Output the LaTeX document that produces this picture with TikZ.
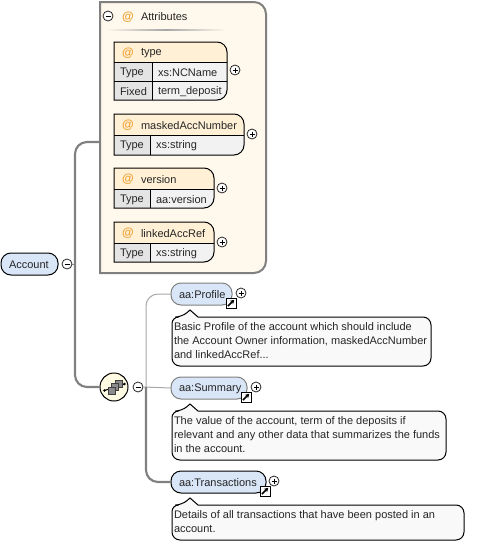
\documentclass[tikz,border=0pt]{standalone}
\usepackage{fontspec}
\setmainfont{Liberation Sans}
\usetikzlibrary{fit,arrows.meta,calc}
\definecolor{attrbg}{HTML}{FFF8EC}
\definecolor{hdr}{HTML}{FFF0D6}
\definecolor{lab}{HTML}{E4E4E4}
\definecolor{val}{HTML}{F2F2F2}
\definecolor{elem}{HTML}{D9E6F8}
\definecolor{docbg}{HTML}{F9F9F9}
\definecolor{conn}{HTML}{808080}
\definecolor{thinc}{HTML}{A8A8A8}
\definecolor{choicebg}{HTML}{FFFBE2}
\definecolor{atc}{HTML}{F0A030}
\tikzset{
  x=0.75pt,y=-0.75pt,
  every node/.style={font=\fontsize{8.25}{10.5}\selectfont,text=black!85},
  region/.style={inner sep=0pt,outer sep=0pt,line width=0pt},
  txt/.style={anchor=west,inner sep=0pt,outer sep=0pt,yshift=-0.6pt},
  atsign/.style={txt,text=atc,font=\fontsize{9}{10.5}\selectfont\bfseries},
  outl/.style={draw=black,line width=0.75pt},
  pm/.style={circle,draw=black!85,fill=white,line width=0.6pt,minimum size=7.5pt,inner sep=0pt},
  trunk/.style={draw=conn,line width=1.6pt,rounded corners=9pt},
  thinl/.style={draw=thinc,line width=0.75pt,rounded corners=9pt},
  shortl/.style={draw=conn,line width=0.75pt},
  doc/.style={anchor=north west,inner sep=0pt,outer sep=0pt,align=left}
}
% plus / minus
\newcommand{\minusn}[3]{\node[pm] (#1) at (#2,#3) {};
  \draw[line width=0.6pt,black] ($(#1)+(-2.5,0)$) -- ($(#1)+(2.5,0)$);}
\newcommand{\plusn}[3]{\node[pm] (#1) at (#2,#3) {};
  \draw[line width=0.6pt,black] ($(#1)+(-2.5,0)$) -- ($(#1)+(2.5,0)$) ($(#1)+(0,-2.5)$) -- ($(#1)+(0,2.5)$);}
% attribute box: name x1 y1 x2 y2 yhead xdiv title
\newcommand{\attrb}[8]{%
  \node[region,fit={(#2,#3)(#4,#5)}] (#1) {};
  \fill[hdr] (#2,#6) -- (#2,#3) [rounded corners=7.5pt] -- (#4,#3) [sharp corners] -- (#4,#6) -- cycle;
  \fill[val] (#7,#6) -- (#4,#6) [rounded corners=7.5pt] -- (#4,#5) [sharp corners] -- (#7,#5) -- cycle;
  \fill[lab] (#2,#6) rectangle (#7,#5);
  \draw[outl] (#2,#3) [rounded corners=7.5pt] -- (#4,#3) -- (#4,#5) [sharp corners] -- (#2,#5) -- cycle;
  \draw[outl] (#2,#6) -- (#4,#6) (#7,#6) -- (#7,#5);
  \node[atsign] (#1at) at (#2+8,{(#3+#6)/2}) {@};
  \node[txt] (#1title) at (#2+27,{(#3+#6)/2}) {#8};
}
% element: name x1 y1 x2 y2 text, border
\newcommand{\elemb}[7]{%
  \node[region,fit={(#2,#3)(#4,#5)}] (#1) {};
  \draw[draw=#7,line width=0.75pt,fill=elem,rounded corners=7.5pt] (#2,#3) rectangle (#4,#5);
  \node[txt] (#1t) at (#2+8,{(#3+#5)/2}) {#6};
}
\newcommand{\linkic}[3]{%
  \node[draw=black,fill=white,line width=0.75pt,minimum size=7.5pt,inner sep=0pt] (#1) at (#2,#3) {};
  \draw[black,line width=1.1pt,-{Stealth[length=3pt,width=3.5pt]}] ($(#1)+(-3,3)$) -- ($(#1)+(3.2,-3.2)$);
}
% doc: name x1 y1 x2 y2 text
\newcommand{\docb}[6]{%
  \node[region,fit={(#2,#3)(#4,#5)}] (#1) {};
  \draw[outl,fill=docbg,rounded corners=5pt] (#2,#3+15) -- (#2,#3) [rounded corners=5pt] -- (#2+10,#3) [sharp corners] -- (#2+18,#3-7) -- (#2+26,#3) [rounded corners=6pt] -- (#4,#3) -- (#4,#5) -- (#2,#5) -- cycle;
  \node[doc] (#1t) at (#2+2,#3+6) {#6};
}
\begin{document}
\begin{tikzpicture}
\useasboundingbox (0,0) rectangle (487,543);
\fill[white] (0,0) rectangle (487,543);

% named connector joints
\coordinate (jA) at (75,264);
\coordinate (jB) at (146,387);
\coordinate (attrport) at (100,142);

% Attributes container
\node[region,fit={(100,2)(266,273)}] (attr) {};
\draw[draw=conn,line width=1.5pt,fill=attrbg] (100,2) [rounded corners=9pt] -- (266,2) -- (266,273) [sharp corners] -- (100,273) -- cycle;
\node[atsign] (attrat) at (122,16) {@};
\node[txt] (attrtitle) at (141,16) {Attributes};
\shade[left color=attrbg,right color=attrbg,middle color=black!35] (105,29.5) rectangle (226,30.7);
\minusn{attrminus}{108}{16}

% attribute boxes
\attrb{type}{114}{42}{227}{100}{62}{152}{type}
\draw[outl] (114,81.5) -- (227,81.5);
\node[txt] (typel) at (120,72) {Type};
\node[txt] (typev) at (158,72) {xs:NCName};
\node[txt] (fixedl) at (120,91) {Fixed};
\node[txt] (fixedv) at (158,91) {term\_deposit};
\plusn{typeplus}{235}{70}

\attrb{masked}{114}{114}{244}{155}{135}{150}{maskedAccNumber}
\node[txt] (maskedl) at (120,145) {Type};
\node[txt] (maskedv) at (156,145) {xs:string};
\plusn{maskedplus}{252}{134}

\attrb{version}{114}{168}{214}{208}{189}{150}{version}
\node[txt] (versionl) at (120,199) {Type};
\node[txt] (versionv) at (156,199) {aa:version};
\plusn{versionplus}{222}{188}

\attrb{linked}{114}{222}{214}{262}{243}{150}{linkedAccRef}
\node[txt] (linkedl) at (120,253) {Type};
\node[txt] (linkedv) at (156,253) {xs:string};
\plusn{linkedplus}{222}{242}

% Account
\elemb{account}{1}{253}{58}{275}{Account}{black}
\minusn{accminus}{67}{264}

% sequence compositor
\node[circle,draw=black,fill=choicebg,line width=0.75pt,minimum size=21pt,inner sep=0pt] (choice) at (114,387) {};
\minusn{chminus}{138}{387}

% elements
\elemb{profile}{171}{283}{232}{305}{aa:Profile}{conn}
\elemb{summary}{171}{377}{247}{399}{aa:Summary}{conn}
\elemb{trans}{171}{471}{266}{493}{aa:Transactions}{black}

% connectors
\draw[trunk] (attr.west |- attrport) -| (jA) |- (choice.west);
\draw[shortl] (accminus.east) -- (jA);
\draw[thinl] (profile.west) -| (jB);
\draw[shortl,draw=thinc] (chminus.east) -- (summary.west);
\draw[trunk] (jB) |- (trans.west);

% compositor glyph
\draw[black,line width=0.75pt] (104.5,390.5) -- (124.5,384);
\fill[black] (104.5,390.5) circle (1.1pt) (124.5,384) circle (1.1pt);
\foreach \xx/\yy in {118.5/383.5,115/387,111.5/390.5}{
  \draw[draw=black!75,fill=black!45,line width=0.6pt] (\xx-3.5,\yy-3.5) rectangle (\xx+3.5,\yy+3.5);
}

% links and pluses
\linkic{profilelink}{231}{303}
\plusn{profileplus}{241}{293}
\linkic{summarylink}{246}{397}
\plusn{summaryplus}{256}{387}
\linkic{translink}{265}{491}
\plusn{transplus}{274}{481}

% docs
\docb{profiledoc}{172}{317}{431}{366}{Basic Profile of the account which should include\\the Account Owner information, maskedAccNumber\\and linkedAccRef...}
\docb{summarydoc}{172}{411}{446}{460}{The value of the account, term of the deposits if\\relevant and any other data that summarizes the funds\\in the account.}
\docb{transdoc}{172}{505}{464}{540}{Details of all transactions that have been posted in an\\account.}
\end{tikzpicture}
\end{document}
